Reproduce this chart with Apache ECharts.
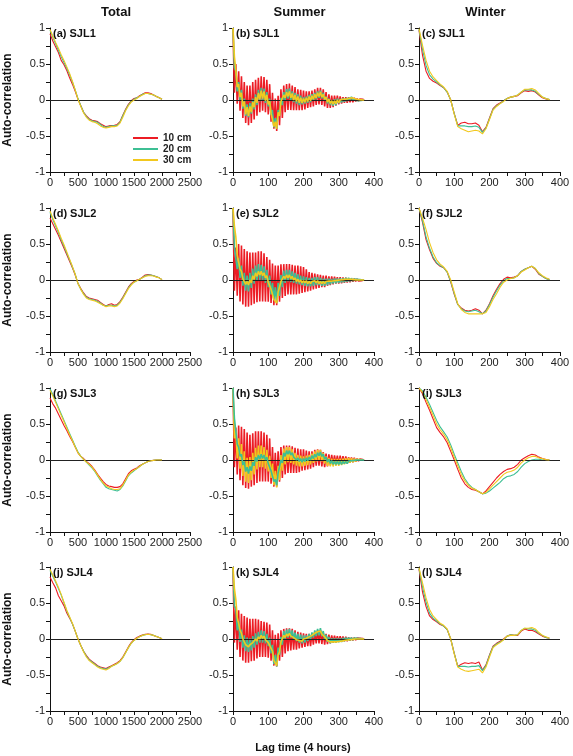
<!DOCTYPE html>
<html>
<head>
<meta charset="utf-8">
<script src="https://cdn.jsdelivr.net/npm/echarts@6/dist/echarts.min.js"></script>
<style>
  html, body { margin: 0; padding: 0; background: #fff; }
  #chart { width: 573px; height: 756px; }
</style>
</head>
<body>
<div id="chart"></div>
<script>
// depth names and colours
const depthNames = ['10 cm', '20 cm', '30 cm']
const depthColors = ['#ec1c24', '#3dbf94', '#f2c81e']

// ---- Total (lag 0..2000, step 50) ----
const totalLags = Array.from({ length: 41 }, (_, i) => i * 50)
const a_red = [0.92,0.82,0.74,0.66,0.55,0.49,0.41,0.31,0.22,0.12,0.01,-0.08,-0.17,-0.22,-0.26,-0.28,-0.29,-0.30,-0.33,-0.35,-0.37,-0.36,-0.355,-0.35,-0.34,-0.30,-0.21,-0.13,-0.06,-0.01,0.02,0.03,0.06,0.08,0.10,0.10,0.09,0.07,0.05,0.03,0.01]
const a_green = [0.97,0.87,0.78,0.69,0.60,0.52,0.44,0.35,0.25,0.14,0.02,-0.08,-0.17,-0.23,-0.27,-0.29,-0.30,-0.31,-0.34,-0.37,-0.38,-0.37,-0.36,-0.36,-0.35,-0.31,-0.22,-0.14,-0.07,-0.02,0.01,0.03,0.05,0.08,0.09,0.09,0.08,0.07,0.05,0.03,0.01]
const a_yellow = [0.98,0.89,0.80,0.72,0.63,0.55,0.46,0.37,0.26,0.14,0.01,-0.09,-0.18,-0.24,-0.28,-0.30,-0.31,-0.33,-0.36,-0.38,-0.39,-0.38,-0.37,-0.37,-0.36,-0.32,-0.24,-0.15,-0.08,-0.03,0.00,0.02,0.05,0.07,0.09,0.09,0.08,0.07,0.05,0.03,0.01]
const d_red = [0.86,0.78,0.70,0.62,0.53,0.44,0.35,0.26,0.17,0.07,-0.05,-0.12,-0.18,-0.23,-0.25,-0.26,-0.27,-0.28,-0.31,-0.34,-0.36,-0.34,-0.33,-0.35,-0.34,-0.30,-0.24,-0.17,-0.10,-0.05,-0.02,0.00,0.01,0.04,0.07,0.075,0.07,0.06,0.045,0.03,0.005]
const d_green = [0.94,0.84,0.75,0.66,0.56,0.47,0.37,0.28,0.18,0.08,-0.05,-0.13,-0.19,-0.24,-0.26,-0.27,-0.28,-0.30,-0.32,-0.35,-0.36,-0.35,-0.35,-0.36,-0.35,-0.31,-0.25,-0.18,-0.11,-0.06,-0.03,-0.01,0.01,0.03,0.06,0.07,0.07,0.06,0.045,0.03,0.005]
const d_yellow = [0.96,0.86,0.77,0.68,0.58,0.49,0.39,0.29,0.19,0.08,-0.05,-0.13,-0.20,-0.25,-0.27,-0.28,-0.29,-0.31,-0.33,-0.35,-0.37,-0.36,-0.36,-0.37,-0.36,-0.32,-0.26,-0.19,-0.12,-0.07,-0.03,-0.01,0.01,0.03,0.05,0.06,0.06,0.055,0.04,0.03,0.005]
const g_red = [0.86,0.78,0.72,0.64,0.56,0.48,0.41,0.33,0.26,0.18,0.10,0.05,0.02,-0.02,-0.05,-0.09,-0.14,-0.20,-0.25,-0.30,-0.34,-0.36,-0.37,-0.38,-0.38,-0.37,-0.33,-0.26,-0.19,-0.15,-0.13,-0.11,-0.08,-0.06,-0.04,-0.02,-0.01,-0.005,0,0,0]
const g_green = [0.99,0.91,0.82,0.73,0.64,0.55,0.46,0.37,0.28,0.19,0.11,0.05,0.01,-0.03,-0.07,-0.11,-0.16,-0.22,-0.28,-0.33,-0.38,-0.40,-0.41,-0.42,-0.43,-0.41,-0.36,-0.29,-0.22,-0.18,-0.15,-0.12,-0.09,-0.06,-0.04,-0.02,-0.01,-0.005,0,0,0]
const g_yellow = [0.97,0.89,0.80,0.71,0.62,0.53,0.44,0.35,0.27,0.18,0.10,0.05,0.01,-0.03,-0.06,-0.10,-0.15,-0.21,-0.27,-0.32,-0.36,-0.38,-0.40,-0.41,-0.41,-0.40,-0.35,-0.28,-0.21,-0.17,-0.14,-0.12,-0.09,-0.06,-0.04,-0.02,-0.01,-0.005,0,0,0]
const j_red = [0.86,0.78,0.71,0.60,0.53,0.46,0.36,0.29,0.21,0.11,0.00,-0.09,-0.17,-0.23,-0.28,-0.31,-0.34,-0.37,-0.39,-0.40,-0.41,-0.39,-0.37,-0.35,-0.33,-0.30,-0.25,-0.18,-0.11,-0.05,-0.01,0.02,0.04,0.055,0.065,0.07,0.065,0.05,0.035,0.02,0.005]
const j_green = [0.95,0.87,0.79,0.70,0.61,0.50,0.39,0.30,0.21,0.11,0.00,-0.09,-0.17,-0.24,-0.29,-0.32,-0.35,-0.38,-0.40,-0.41,-0.42,-0.40,-0.38,-0.36,-0.34,-0.31,-0.26,-0.19,-0.12,-0.06,-0.02,0.01,0.03,0.05,0.06,0.065,0.06,0.05,0.035,0.02,0.005]
const j_yellow = [0.97,0.89,0.81,0.72,0.62,0.51,0.40,0.31,0.22,0.11,0.00,-0.09,-0.18,-0.25,-0.30,-0.33,-0.36,-0.39,-0.41,-0.42,-0.43,-0.41,-0.38,-0.36,-0.34,-0.31,-0.26,-0.19,-0.12,-0.06,-0.02,0.01,0.03,0.05,0.06,0.065,0.06,0.05,0.035,0.02,0.005]

// ---- Summer: peaks at lag 0,8,16.. and troughs at lag 4,12,20.. ----
const b_red_hi = [1.0,0.5,0.4,0.33,0.25,0.2,0.2,0.25,0.28,0.31,0.33,0.32,0.28,0.22,0.1,0.02,0.06,0.15,0.2,0.22,0.23,0.2,0.18,0.15,0.14,0.13,0.12,0.12,0.13,0.15,0.17,0.17,0.15,0.11,0.08,0.06,0.06,0.06,0.05,0.04,0.04,0.04,0.04,0.03,0.02,0.015,0.01]
const b_red_lo = [0.1,-0.05,-0.15,-0.25,-0.32,-0.35,-0.32,-0.27,-0.22,-0.17,-0.15,-0.17,-0.2,-0.3,-0.4,-0.43,-0.35,-0.25,-0.17,-0.14,-0.14,-0.14,-0.14,-0.14,-0.14,-0.13,-0.11,-0.1,-0.09,-0.07,-0.06,-0.07,-0.09,-0.11,-0.11,-0.1,-0.08,-0.06,-0.05,-0.04,-0.04,-0.03,-0.03,-0.02,-0.015,-0.01,0.0]
const b_green_hi = [1.0,0.40,0.25,0.14,0.02,-0.06,-0.04,0.02,0.08,0.14,0.17,0.16,0.11,0.02,-0.14,-0.25,-0.14,0.03,0.11,0.15,0.16,0.12,0.10,0.08,0.06,0.04,0.05,0.07,0.08,0.10,0.12,0.13,0.10,0.05,0.02,0.0,0.01,0.02,0.015,0.025,0.025,0.035,0.045,0.025,0.015,0.01,0.005]
const b_green_lo = [0.45,0.12,0.0,-0.12,-0.22,-0.24,-0.19,-0.13,-0.07,-0.02,-0.01,-0.04,-0.09,-0.21,-0.38,-0.4,-0.21,-0.07,0.0,0.02,0.0,-0.03,-0.05,-0.07,-0.06,-0.05,-0.04,-0.03,-0.01,0.01,0.03,0.02,-0.01,-0.05,-0.07,-0.08,-0.07,-0.045,-0.035,-0.025,-0.015,-0.005,0.005,-0.005,-0.01,-0.005,0.0]
const b_yellow_hi = [1.0,0.42,0.22,0.1,-0.02,-0.1,-0.09,-0.03,0.04,0.1,0.13,0.12,0.07,-0.02,-0.18,-0.3,-0.17,-0.02,0.07,0.11,0.12,0.09,0.07,0.05,0.03,0.02,0.03,0.05,0.06,0.08,0.1,0.11,0.08,0.04,0.01,-0.01,-0.01,0.0,0.0,0.01,0.01,0.02,0.03,0.02,0.01,0.005,0.0]
const b_yellow_lo = [0.6,0.18,0.04,-0.09,-0.2,-0.22,-0.17,-0.1,-0.04,0.01,0.02,-0.01,-0.06,-0.19,-0.37,-0.4,-0.22,-0.04,0.03,0.05,0.03,0.0,-0.02,-0.04,-0.04,-0.03,-0.02,-0.01,0.01,0.03,0.05,0.04,0.01,-0.03,-0.05,-0.06,-0.05,-0.035,-0.025,-0.015,-0.005,0.005,0.01,0.0,-0.005,0.0,0.0]

const e_red_hi = [1.0,0.45,0.5,0.48,0.43,0.4,0.38,0.38,0.38,0.4,0.4,0.37,0.32,0.28,0.23,0.2,0.2,0.22,0.22,0.22,0.22,0.21,0.2,0.2,0.19,0.18,0.15,0.11,0.1,0.09,0.08,0.07,0.06,0.06,0.05,0.05,0.045,0.04,0.04,0.035,0.03,0.025,0.02,0.02,0.015,0.01,0.005]
const e_red_lo = [-0.15,-0.22,-0.3,-0.34,-0.37,-0.37,-0.35,-0.33,-0.31,-0.3,-0.3,-0.3,-0.3,-0.32,-0.35,-0.35,-0.3,-0.25,-0.22,-0.2,-0.2,-0.2,-0.2,-0.19,-0.18,-0.17,-0.16,-0.15,-0.13,-0.12,-0.11,-0.1,-0.1,-0.08,-0.07,-0.06,-0.05,-0.05,-0.045,-0.04,-0.035,-0.03,-0.025,-0.02,-0.015,-0.01,0.0]
const e_green_hi = [1.0,0.45,0.3,0.2,0.1,0.06,0.1,0.16,0.2,0.22,0.21,0.19,0.14,0.06,-0.04,-0.1,-0.04,0.07,0.13,0.14,0.14,0.12,0.1,0.08,0.06,0.05,0.04,0.03,0.03,0.04,0.04,0.03,0.02,0.02,0.02,0.015,0.02,0.02,0.025,0.025,0.03,0.03,0.025,0.015,0.01,0.005,0.0]
const e_green_lo = [0.45,0.15,0.03,-0.08,-0.15,-0.16,-0.11,-0.05,-0.01,0.0,-0.01,-0.04,-0.1,-0.2,-0.28,-0.32,-0.22,-0.1,-0.04,-0.02,-0.03,-0.04,-0.05,-0.06,-0.07,-0.08,-0.09,-0.09,-0.08,-0.07,-0.07,-0.08,-0.08,-0.07,-0.06,-0.05,-0.045,-0.04,-0.035,-0.03,-0.025,-0.02,-0.015,-0.01,-0.005,0.0,0.0]
const e_yellow_hi = [1.0,0.6,0.25,0.12,0.02,-0.02,0.0,0.06,0.1,0.12,0.12,0.1,0.06,-0.02,-0.15,-0.25,-0.17,-0.02,0.05,0.07,0.07,0.05,0.03,0.01,0.0,-0.01,-0.01,-0.02,-0.02,-0.01,-0.01,-0.02,-0.02,-0.02,-0.015,-0.015,-0.01,-0.005,0.0,0.005,0.01,0.01,0.01,0.005,0.0,0.0,0.0]
const e_yellow_lo = [0.75,0.35,0.15,0.02,-0.06,-0.07,-0.04,0.01,0.05,0.07,0.06,0.03,-0.03,-0.13,-0.27,-0.32,-0.18,-0.04,0.02,0.03,0.02,0.0,-0.02,-0.03,-0.04,-0.04,-0.05,-0.05,-0.04,-0.04,-0.05,-0.05,-0.05,-0.04,-0.035,-0.03,-0.025,-0.02,-0.015,-0.01,-0.005,-0.005,-0.005,-0.005,0.0,0.0,0.0]

const h_red_hi = [1.0,0.45,0.48,0.46,0.43,0.38,0.35,0.37,0.4,0.4,0.4,0.38,0.35,0.3,0.18,0.1,0.12,0.18,0.2,0.2,0.2,0.19,0.17,0.16,0.15,0.15,0.13,0.12,0.12,0.14,0.15,0.14,0.11,0.09,0.08,0.07,0.065,0.06,0.06,0.055,0.05,0.04,0.035,0.03,0.02,0.015,0.005]
const h_red_lo = [-0.1,-0.2,-0.28,-0.35,-0.39,-0.4,-0.37,-0.35,-0.32,-0.3,-0.3,-0.3,-0.3,-0.33,-0.37,-0.37,-0.3,-0.25,-0.2,-0.18,-0.18,-0.18,-0.18,-0.17,-0.15,-0.14,-0.13,-0.12,-0.1,-0.08,-0.08,-0.09,-0.1,-0.09,-0.07,-0.065,-0.06,-0.06,-0.055,-0.05,-0.045,-0.04,-0.03,-0.025,-0.015,-0.01,0.0]
const h_green_hi = [1.0,0.4,0.18,0.08,-0.02,-0.1,-0.09,-0.03,0.04,0.07,0.08,0.07,0.04,-0.05,-0.17,-0.27,-0.18,0.0,0.1,0.13,0.13,0.1,0.06,0.03,0.02,0.02,0.03,0.04,0.06,0.08,0.1,0.11,0.08,0.04,0.01,-0.01,-0.02,-0.02,-0.02,-0.02,-0.02,-0.015,-0.01,-0.005,0.0,0.0,0.0]
const h_green_lo = [0.58,0.22,0.05,-0.07,-0.16,-0.19,-0.15,-0.08,-0.02,0.01,0.02,0.0,-0.05,-0.15,-0.3,-0.35,-0.2,-0.04,0.05,0.08,0.07,0.04,0.0,-0.02,-0.03,-0.02,-0.01,0.0,0.02,0.04,0.06,0.05,0.01,-0.03,-0.05,-0.06,-0.06,-0.06,-0.06,-0.05,-0.05,-0.04,-0.03,-0.02,-0.01,-0.005,0.0]
const h_yellow_hi = [1.0,0.4,0.3,0.22,0.12,0.03,0.04,0.1,0.17,0.2,0.2,0.18,0.14,0.06,-0.05,-0.15,-0.08,0.07,0.16,0.18,0.18,0.15,0.1,0.07,0.06,0.05,0.06,0.07,0.09,0.12,0.14,0.14,0.1,0.05,0.03,0.02,0.015,0.015,0.02,0.02,0.025,0.03,0.025,0.02,0.01,0.005,0.0]
const h_yellow_lo = [0.3,0.02,-0.12,-0.22,-0.3,-0.32,-0.28,-0.2,-0.13,-0.1,-0.1,-0.12,-0.16,-0.25,-0.35,-0.38,-0.28,-0.15,-0.06,-0.03,-0.04,-0.06,-0.08,-0.09,-0.09,-0.08,-0.07,-0.06,-0.04,-0.02,-0.01,-0.02,-0.05,-0.08,-0.09,-0.09,-0.08,-0.08,-0.07,-0.06,-0.05,-0.04,-0.03,-0.02,-0.015,-0.005,0.0]

const k_red_hi = [1.0,0.45,0.4,0.35,0.32,0.3,0.28,0.28,0.28,0.27,0.25,0.24,0.23,0.2,0.12,0.06,0.08,0.12,0.14,0.15,0.15,0.14,0.12,0.1,0.09,0.08,0.07,0.07,0.08,0.1,0.12,0.12,0.09,0.07,0.06,0.05,0.045,0.04,0.04,0.035,0.03,0.025,0.02,0.02,0.015,0.01,0.005]
const k_red_lo = [-0.05,-0.15,-0.25,-0.3,-0.33,-0.33,-0.31,-0.3,-0.27,-0.25,-0.25,-0.25,-0.26,-0.3,-0.37,-0.38,-0.3,-0.25,-0.2,-0.17,-0.16,-0.15,-0.15,-0.13,-0.12,-0.11,-0.1,-0.1,-0.08,-0.06,-0.06,-0.07,-0.08,-0.07,-0.06,-0.05,-0.045,-0.04,-0.035,-0.03,-0.03,-0.025,-0.02,-0.015,-0.01,-0.005,0.0]
const k_green_hi = [1.0,0.42,0.25,0.13,0.05,0.02,0.01,0.04,0.08,0.1,0.12,0.11,0.07,0.02,-0.08,-0.22,-0.12,0.03,0.11,0.13,0.14,0.12,0.09,0.07,0.06,0.05,0.05,0.07,0.09,0.12,0.14,0.15,0.11,0.06,0.03,0.01,0.01,0.01,0.01,0.015,0.02,0.02,0.02,0.015,0.01,0.005,0.0]
const k_green_lo = [0.45,0.12,-0.04,-0.12,-0.17,-0.18,-0.16,-0.12,-0.08,-0.05,-0.05,-0.06,-0.1,-0.2,-0.35,-0.38,-0.22,-0.08,0.0,0.02,0.02,0.0,-0.03,-0.05,-0.06,-0.05,-0.03,-0.01,0.02,0.04,0.05,0.04,0.0,-0.04,-0.06,-0.05,-0.05,-0.045,-0.04,-0.03,-0.025,-0.02,-0.015,-0.01,-0.005,0.0,0.0]
const k_yellow_hi = [1.0,0.55,0.22,0.08,-0.02,-0.07,-0.08,-0.05,0.0,0.03,0.05,0.04,0.0,-0.06,-0.17,-0.32,-0.22,-0.04,0.05,0.07,0.08,0.06,0.03,0.01,0.0,0.0,0.01,0.03,0.05,0.08,0.1,0.11,0.07,0.02,-0.01,-0.02,-0.02,-0.02,-0.015,-0.01,-0.005,0.0,0.005,0.005,0.0,0.0,0.0]
const k_yellow_lo = [0.7,0.3,0.12,0.0,-0.08,-0.11,-0.1,-0.07,-0.03,0.0,0.01,-0.01,-0.05,-0.13,-0.3,-0.37,-0.18,-0.03,0.02,0.04,0.04,0.02,-0.01,-0.02,-0.03,-0.02,0.0,0.02,0.04,0.06,0.08,0.07,0.03,-0.02,-0.04,-0.04,-0.04,-0.035,-0.03,-0.02,-0.015,-0.01,-0.005,0.0,0.0,0.0,0.0]

// ---- Winter (lag 0..370, step 10) ----
const winterLags = Array.from({ length: 38 }, (_, i) => i * 10)
const c_red = [0.97,0.62,0.40,0.30,0.26,0.235,0.20,0.17,0.11,0.00,-0.19,-0.35,-0.32,-0.31,-0.33,-0.33,-0.32,-0.35,-0.44,-0.38,-0.25,-0.12,-0.07,-0.04,-0.01,0.02,0.04,0.05,0.06,0.10,0.13,0.12,0.13,0.11,0.07,0.03,0.015,0.005]
const c_green = [0.98,0.70,0.48,0.35,0.29,0.25,0.21,0.17,0.11,0.00,-0.19,-0.36,-0.36,-0.36,-0.37,-0.37,-0.36,-0.38,-0.45,-0.39,-0.26,-0.13,-0.08,-0.05,-0.01,0.02,0.04,0.05,0.07,0.11,0.14,0.14,0.14,0.12,0.08,0.04,0.02,0.005]
const c_yellow = [0.99,0.76,0.55,0.40,0.32,0.27,0.22,0.18,0.12,0.00,-0.20,-0.37,-0.40,-0.42,-0.44,-0.43,-0.42,-0.43,-0.47,-0.40,-0.27,-0.14,-0.09,-0.05,-0.02,0.02,0.04,0.05,0.07,0.11,0.15,0.15,0.16,0.14,0.09,0.04,0.02,0.005]
const f_red = [1.0,0.80,0.56,0.42,0.30,0.23,0.19,0.17,0.11,-0.03,-0.20,-0.34,-0.39,-0.42,-0.43,-0.42,-0.40,-0.42,-0.47,-0.42,-0.33,-0.22,-0.13,-0.05,0.01,0.04,0.03,0.04,0.06,0.12,0.15,0.17,0.19,0.15,0.08,0.05,0.02,0.005]
const f_green = [1.0,0.82,0.60,0.44,0.32,0.24,0.20,0.17,0.11,-0.02,-0.19,-0.34,-0.40,-0.43,-0.44,-0.43,-0.42,-0.44,-0.47,-0.43,-0.34,-0.24,-0.15,-0.07,-0.01,0.02,0.02,0.03,0.06,0.12,0.15,0.17,0.19,0.16,0.09,0.05,0.02,0.005]
const f_yellow = [1.0,0.86,0.70,0.52,0.38,0.28,0.22,0.18,0.12,0.00,-0.17,-0.33,-0.41,-0.45,-0.47,-0.47,-0.47,-0.47,-0.47,-0.45,-0.37,-0.27,-0.19,-0.10,-0.03,0.00,0.02,0.03,0.06,0.11,0.14,0.17,0.19,0.16,0.10,0.06,0.03,0.01]
const i_red = [1.0,0.92,0.80,0.69,0.57,0.45,0.38,0.32,0.24,0.12,0.00,-0.13,-0.25,-0.33,-0.38,-0.41,-0.42,-0.44,-0.47,-0.43,-0.37,-0.31,-0.25,-0.20,-0.16,-0.13,-0.12,-0.10,-0.06,0.00,0.03,0.06,0.08,0.07,0.04,0.02,0.005,0.0]
const i_green = [1.0,0.96,0.87,0.77,0.66,0.55,0.46,0.39,0.32,0.21,0.08,-0.04,-0.16,-0.26,-0.33,-0.38,-0.41,-0.44,-0.47,-0.46,-0.43,-0.39,-0.35,-0.31,-0.26,-0.23,-0.22,-0.20,-0.16,-0.10,-0.05,-0.02,0.00,0.01,0.01,0.0,0.0,0.0]
const i_yellow = [1.0,0.94,0.84,0.73,0.62,0.50,0.42,0.36,0.28,0.17,0.04,-0.08,-0.20,-0.29,-0.35,-0.39,-0.41,-0.44,-0.47,-0.45,-0.40,-0.35,-0.30,-0.25,-0.20,-0.17,-0.16,-0.14,-0.10,-0.04,0.00,0.03,0.05,0.05,0.03,0.02,0.005,0.0]
const l_red = [0.97,0.65,0.45,0.32,0.27,0.24,0.20,0.18,0.13,0.00,-0.20,-0.38,-0.35,-0.33,-0.34,-0.33,-0.34,-0.32,-0.43,-0.36,-0.22,-0.10,-0.06,-0.03,0.00,0.04,0.06,0.05,0.05,0.11,0.14,0.12,0.12,0.10,0.07,0.04,0.02,0.01]
const l_green = [0.98,0.72,0.51,0.36,0.29,0.25,0.21,0.18,0.13,0.00,-0.20,-0.38,-0.38,-0.38,-0.39,-0.38,-0.38,-0.37,-0.44,-0.37,-0.23,-0.11,-0.07,-0.04,-0.01,0.04,0.06,0.05,0.06,0.12,0.15,0.14,0.14,0.12,0.08,0.05,0.02,0.01]
const l_yellow = [0.99,0.78,0.57,0.41,0.32,0.27,0.22,0.19,0.14,0.00,-0.21,-0.39,-0.42,-0.44,-0.45,-0.44,-0.43,-0.42,-0.47,-0.39,-0.25,-0.12,-0.08,-0.05,-0.01,0.04,0.05,0.05,0.06,0.12,0.15,0.15,0.16,0.14,0.09,0.05,0.03,0.01]

const colTitles = ['Total', 'Summer', 'Winter']
const yTickLabels = ['-1', '-0.5', '0', '0.5', '1']

// layout (px)
const cols = [{ left: 50, width: 140 }, { left: 233, width: 141 }, { left: 419, width: 141 }]
const rowTops = [28, 208, 388, 567]
const plotH = 144
const FONT = "'Liberation Sans', Arial, Helvetica, sans-serif"

function onLags(lags, vals) {
  return vals.map((v, i) => [lags[i], v])
}
// interleave diurnal peaks (lag 8i) and troughs (lag 8i+4)
function zig(hi, lo) {
  const out = []
  hi.forEach((v, i) => {
    out.push([i * 8, v])
    if (lo[i] !== undefined) out.push([i * 8 + 4, lo[i]])
  })
  return out
}

const panels = [
  { label: '(a) SJL1', row: 0, col: 0, data: [onLags(totalLags, a_red), onLags(totalLags, a_green), onLags(totalLags, a_yellow)] },
  { label: '(b) SJL1', row: 0, col: 1, data: [zig(b_red_hi, b_red_lo), zig(b_green_hi, b_green_lo), zig(b_yellow_hi, b_yellow_lo)] },
  { label: '(c) SJL1', row: 0, col: 2, data: [onLags(winterLags, c_red), onLags(winterLags, c_green), onLags(winterLags, c_yellow)] },
  { label: '(d) SJL2', row: 1, col: 0, data: [onLags(totalLags, d_red), onLags(totalLags, d_green), onLags(totalLags, d_yellow)] },
  { label: '(e) SJL2', row: 1, col: 1, data: [zig(e_red_hi, e_red_lo), zig(e_green_hi, e_green_lo), zig(e_yellow_hi, e_yellow_lo)] },
  { label: '(f) SJL2', row: 1, col: 2, data: [onLags(winterLags, f_red), onLags(winterLags, f_green), onLags(winterLags, f_yellow)] },
  { label: '(g) SJL3', row: 2, col: 0, data: [onLags(totalLags, g_red), onLags(totalLags, g_green), onLags(totalLags, g_yellow)] },
  { label: '(h) SJL3', row: 2, col: 1, data: [zig(h_red_hi, h_red_lo), zig(h_green_hi, h_green_lo), zig(h_yellow_hi, h_yellow_lo)], zOrder: [1, 3, 2] },
  { label: '(i) SJL3', row: 2, col: 2, data: [onLags(winterLags, i_red), onLags(winterLags, i_green), onLags(winterLags, i_yellow)] },
  { label: '(j) SJL4', row: 3, col: 0, data: [onLags(totalLags, j_red), onLags(totalLags, j_green), onLags(totalLags, j_yellow)] },
  { label: '(k) SJL4', row: 3, col: 1, data: [zig(k_red_hi, k_red_lo), zig(k_green_hi, k_green_lo), zig(k_yellow_hi, k_yellow_lo)] },
  { label: '(l) SJL4', row: 3, col: 2, data: [onLags(winterLags, l_red), onLags(winterLags, l_green), onLags(winterLags, l_yellow)] }
]

const grid = [], xAxis = [], yAxis = [], series = [], graphic = []

panels.forEach((p, idx) => {
  const c = cols[p.col]
  const top = rowTops[p.row]
  const isTotal = p.col === 0
  const isSummer = p.col === 1
  grid.push({ left: c.left, top: top, width: c.width, height: plotH })
  xAxis.push({
    gridIndex: idx, type: 'value', min: 0, max: isTotal ? 2500 : 400, interval: isTotal ? 250 : 50,
    axisLine: { onZero: false, lineStyle: { color: '#111', width: 1 } },
    axisTick: { length: 4, lineStyle: { color: '#111' } },
    axisLabel: {
      fontSize: 11, color: '#222', fontFamily: FONT, margin: 5,
      formatter: v => (v % (isTotal ? 500 : 100) === 0 ? String(v) : '')
    },
    splitLine: { show: false }
  })
  yAxis.push({
    gridIndex: idx, type: 'value', min: -1, max: 1, interval: 0.25,
    axisLine: { lineStyle: { color: '#111', width: 1 } },
    axisTick: { length: 4, lineStyle: { color: '#111' } },
    axisLabel: {
      fontSize: 11, color: '#222', fontFamily: FONT, margin: 5,
      formatter: v => {
        const k = yTickLabels.indexOf(String(v))
        return k >= 0 ? yTickLabels[k] : ''
      }
    },
    splitLine: { show: false }
  })
  const zOrder = p.zOrder || [1, 2, 3]
  p.data.forEach((d, s) => {
    series.push({
      name: depthNames[s], type: 'line', xAxisIndex: idx, yAxisIndex: idx,
      data: d, color: depthColors[s], showSymbol: false, symbol: 'none',
      lineStyle: { width: isSummer ? 1.6 : 1.1, color: depthColors[s] },
      z: zOrder[s] + 2, silent: true, animation: false
    })
  })
  // zero reference line
  series.push({
    type: 'line', xAxisIndex: idx, yAxisIndex: idx, data: [], z: 9, silent: true,
    markLine: {
      silent: true, symbol: ['none', 'none'], animation: false,
      label: { show: false },
      lineStyle: { color: '#222', width: 1, type: 'solid' },
      data: [{ yAxis: 0 }]
    }
  })
  graphic.push({
    type: 'text', x: c.left + 3, y: top + 6, z: 20,
    style: { text: p.label, font: 'bold 11px ' + FONT, fill: '#111', align: 'left', verticalAlign: 'middle' }
  })
  if (p.col === 0) {
    graphic.push({
      type: 'text', x: 8, y: top + plotH / 2, rotation: Math.PI / 2, z: 20,
      style: { text: 'Auto-correlation', font: 'bold 12px ' + FONT, fill: '#111', align: 'center', verticalAlign: 'middle' }
    })
  }
})

colTitles.forEach((t, i) => {
  graphic.push({
    type: 'text', x: cols[i].left + cols[i].width / 2 - 4, y: 12, z: 20,
    style: { text: t, font: 'bold 13px ' + FONT, fill: '#111', align: 'center', verticalAlign: 'middle' }
  })
})
graphic.push({
  type: 'text', x: 303, y: 748, z: 20,
  style: { text: 'Lag time (4 hours)', font: 'bold 11px ' + FONT, fill: '#111', align: 'center', verticalAlign: 'middle' }
})

const chart = echarts.init(document.getElementById('chart'), null, { renderer: 'canvas' })
chart.setOption({
  animation: false,
  backgroundColor: '#fff',
  textStyle: { fontFamily: FONT },
  legend: {
    data: depthNames, orient: 'vertical', left: 128, top: 128, itemWidth: 25, itemHeight: 2,
    itemGap: 1, icon: 'rect', selectedMode: false,
    textStyle: { fontSize: 10, fontWeight: 'bold', color: '#222', fontFamily: FONT }
  },
  grid, xAxis, yAxis, series, graphic
})
</script>
</body>
</html>
